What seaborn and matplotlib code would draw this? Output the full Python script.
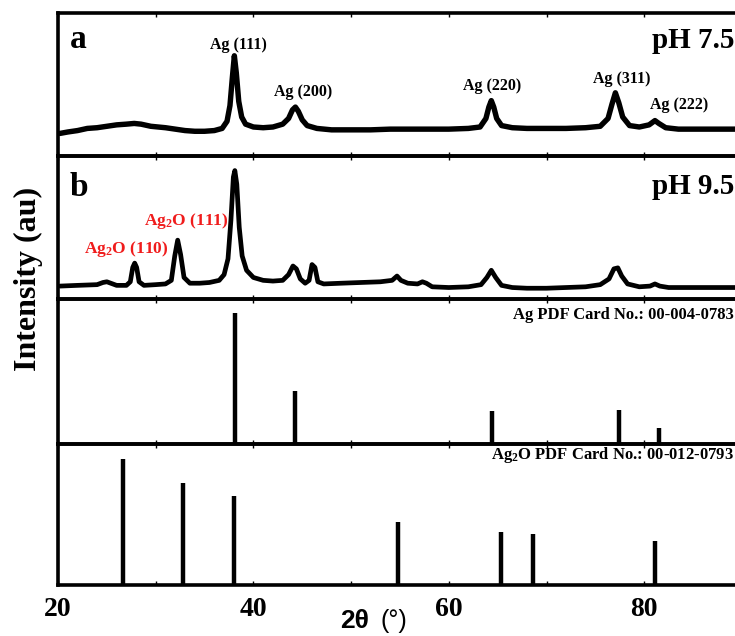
import numpy as np
import pandas as pd
import matplotlib
matplotlib.use("Agg")
import matplotlib.pyplot as plt
import seaborn as sns

# ---------------- data ----------------
# Panel a : pH 7.5 XRD pattern (2theta in degrees, intensity in % of panel height)
a_2theta = [20.2, 21, 22, 23, 24, 25, 26, 27, 27.8, 28.5, 29.5, 31, 32, 33, 34, 35, 36,
            36.8, 37.3, 37.6, 37.85, 38.05, 38.25, 38.5, 38.8, 39.2, 40, 41, 42, 43,
            43.6, 44.0, 44.3, 44.6, 45.0, 45.5, 46.5, 48, 50, 52, 54, 56, 58, 60, 62,
            63.2, 63.8, 64.1, 64.35, 64.6, 64.9, 65.4, 66.5, 68, 70, 72, 74, 75.5,
            76.3, 76.7, 77.05, 77.4, 77.8, 78.5, 79.5, 80.5, 81.1, 81.5, 82.2, 83.5, 86, 90]
a_int = [15.5, 16.5, 17.5, 19, 19.5, 20.5, 21.5, 22, 22.5, 22, 20.5, 19.5, 18.5, 17.5, 17, 17, 17.5,
         19, 24, 35, 55, 70, 58, 38, 27, 22, 20, 19.5, 20, 22,
         26, 32, 34, 31, 25, 21, 19, 18, 18, 18, 18.5, 18.5, 18.5, 18.5, 19,
         20, 26, 34, 38.5, 34, 26, 21, 19.5, 19, 19, 19, 19.5, 20.5,
         26, 36, 44, 37, 27, 21, 20, 21.5, 24.5, 22.5, 19.5, 18.5, 18.5, 18.5]

# Panel b : pH 9.5 XRD pattern
b_2theta = [20.2, 22, 24, 24.6, 25.0, 25.4, 26, 27.0, 27.4, 27.65, 27.85, 28.05, 28.3, 28.8,
            30, 31, 31.6, 31.95, 32.25, 32.55, 32.9, 33.5, 34.5, 35.5, 36.5, 37.0, 37.4,
            37.7, 37.95, 38.1, 38.3, 38.55, 38.85, 39.3, 40, 41, 42, 43, 43.6, 44.05, 44.4,
            44.8, 45.3, 45.7, 46.0, 46.3, 46.6, 47.2, 49, 51, 53, 54.2, 54.7, 55.1, 55.8,
            56.8, 57.3, 57.7, 58.3, 60, 62, 63.3, 63.9, 64.35, 64.8, 65.4, 66.5, 68, 70,
            72, 74, 75.5, 76.4, 76.9, 77.3, 77.7, 78.3, 79.5, 80.6, 81.1, 81.6, 82.5, 85, 90]
b_int = [9, 9.5, 10, 11.5, 12, 11, 9.5, 9.5, 12, 22, 25, 22, 12, 9.5,
         10, 10.5, 13, 30, 41, 31, 15, 11, 11, 11.5, 13, 17, 28,
         55, 85, 89.5, 80, 50, 30, 20, 15, 13, 12.5, 13, 17, 23, 21,
         14, 11, 13, 24, 22, 12, 10.5, 11, 11.5, 12, 13, 16, 13, 11,
         10.5, 12, 11, 8.5, 8, 8.5, 10, 15, 20, 15, 9.5, 8, 7.5, 7.5,
         8, 8.5, 10, 14, 21, 21.7, 16, 10.5, 8.5, 9, 10.5, 9, 8, 8, 8]

# Panel c : Ag reference card 00-004-0783
ag_pos = [38.1, 44.3, 64.4, 77.4, 81.5]
ag_rel = [100, 40, 25, 26, 12]

# Panel d : Ag2O reference card 00-012-0793
ag2o_pos = [26.7, 32.8, 38.0, 54.8, 65.3, 68.6, 81.1]
ag2o_rel = [100, 81, 70.5, 50, 42, 40.5, 35]

x_ticks = [20, 40, 60, 80]
x_minor = [30, 50, 70]
tick_labels = ["20", "40", "60", "80"]

# ---------------- style ----------------
sns.set_theme(style="white")
plt.rcParams["font.family"] = ["Liberation Serif", "DejaVu Serif"]
plt.rcParams["mathtext.fontset"] = "custom"
plt.rcParams["mathtext.rm"] = "Liberation Serif:bold"
plt.rcParams["mathtext.bf"] = "Liberation Serif:bold"
plt.rcParams["mathtext.it"] = "Liberation Serif:bold"

W, H = 735, 636
fig = plt.figure(figsize=(W / 100, H / 100), dpi=100)
fig.patch.set_facecolor("white")


def fx(px):
    return px / W


def fy(py):
    return 1 - py / H


left_px = 58
right_px = 737
px_per_deg = 9.77
xmax = 20 + (right_px - left_px) / px_per_deg

panels_px = [(13, 155.5), (155.5, 299), (299, 443.5), (443.5, 585)]
axes = []
for top, bot in panels_px:
    ax = fig.add_axes([fx(left_px), fy(bot), fx(right_px) - fx(left_px), (bot - top) / H])
    ax.set_facecolor("none")
    ax.set_xlim(20, xmax)
    for s in ["top", "bottom", "left"]:
        ax.spines[s].set_linewidth(2.6)
        ax.spines[s].set_color("black")
        ax.spines[s].set_visible(True)
    ax.spines["right"].set_visible(False)
    ax.set_yticks([])
    ax.set_xticks(x_ticks)
    ax.set_xticks(x_minor, minor=True)
    ax.tick_params(axis="x", which="both", direction="in", length=3, width=1.0,
                   top=True, bottom=True, labelbottom=False, color="black",
                   labelcolor="black")
    ax.set_xlabel("")
    ax.set_ylabel("")
    axes.append(ax)

ax_a, ax_b, ax_c, ax_d = axes

df_a = pd.DataFrame({"2theta": a_2theta, "I": a_int})
sns.lineplot(data=df_a, x="2theta", y="I", ax=ax_a, color="black", linewidth=3.9,
             sort=False, estimator=None, solid_joinstyle="round", solid_capstyle="round")
ax_a.set_ylim(0, 100)

df_b = pd.DataFrame({"2theta": b_2theta, "I": b_int})
sns.lineplot(data=df_b, x="2theta", y="I", ax=ax_b, color="black", linewidth=3.4,
             sort=False, estimator=None, solid_joinstyle="round", solid_capstyle="round")
ax_b.set_ylim(0, 100)

ax_c.vlines(ag_pos, 0, ag_rel, color="black", linewidth=3.2)
ax_c.set_ylim(0, 111)
ax_d.vlines(ag2o_pos, 0, ag2o_rel, color="black", linewidth=3.2)
ax_d.set_ylim(0, 112)

for ax in axes:
    ax.set_xlabel("")
    ax.set_ylabel("")
    ax.set_xlim(20, xmax)

ax_d.tick_params(axis="x", which="major", labelbottom=True, pad=9, labelcolor="black")
ax_d.set_xticklabels(tick_labels, fontsize=20, fontweight="bold",
                     fontfamily="Liberation Serif", color="black")

# ---------------- texts ----------------
serif_b = dict(fontfamily="Liberation Serif", fontweight="bold", color="black")

fig.text(fx(70), fy(48), "a", fontsize=24, ha="left", va="baseline", **serif_b)
fig.text(fx(70), fy(196), "b", fontsize=24, ha="left", va="baseline", **serif_b)
fig.text(fx(734), fy(48), "pH 7.5", fontsize=21, ha="right", va="baseline", **serif_b)
fig.text(fx(734), fy(194), "pH 9.5", fontsize=21, ha="right", va="baseline", **serif_b)

peak_lbls = [("Ag (111)", 238, 49), ("Ag (200)", 303, 96), ("Ag (220)", 492, 90),
             ("Ag (311)", 622, 83), ("Ag (222)", 679, 109)]
for t, x, y in peak_lbls:
    fig.text(fx(x), fy(y), t, fontsize=11.5, ha="center", va="baseline", **serif_b)

red = "#f01c1c"
fig.text(fx(126), fy(253), "Ag$_2$O (110)", fontsize=12.5, ha="center", va="baseline",
         fontfamily="Liberation Serif", fontweight="bold", color=red)
fig.text(fx(186), fy(225), "Ag$_2$O (111)", fontsize=12.5, ha="center", va="baseline",
         fontfamily="Liberation Serif", fontweight="bold", color=red)

fig.text(fx(734), fy(319), "Ag PDF Card No.: 00-004-0783", fontsize=12, ha="right",
         va="baseline", **serif_b)
fig.text(fx(734), fy(459), "Ag$_2$O PDF Card No.: 00-012-0793", fontsize=12, ha="right",
         va="baseline", **serif_b)

fig.text(fx(28), fy(279), "Intensity (au)", fontsize=23, rotation=90, ha="center",
         va="center", **serif_b)

fig.text(fx(340), fy(628), "2θ", fontsize=19, ha="left", va="baseline",
         fontfamily="Liberation Sans", fontweight="bold", color="black")
fig.text(fx(381), fy(628), "(°)", fontsize=18, ha="left", va="baseline",
         fontfamily="Liberation Sans", fontweight="normal", color="black")

fig.savefig("out.png", dpi=100, facecolor="white")
